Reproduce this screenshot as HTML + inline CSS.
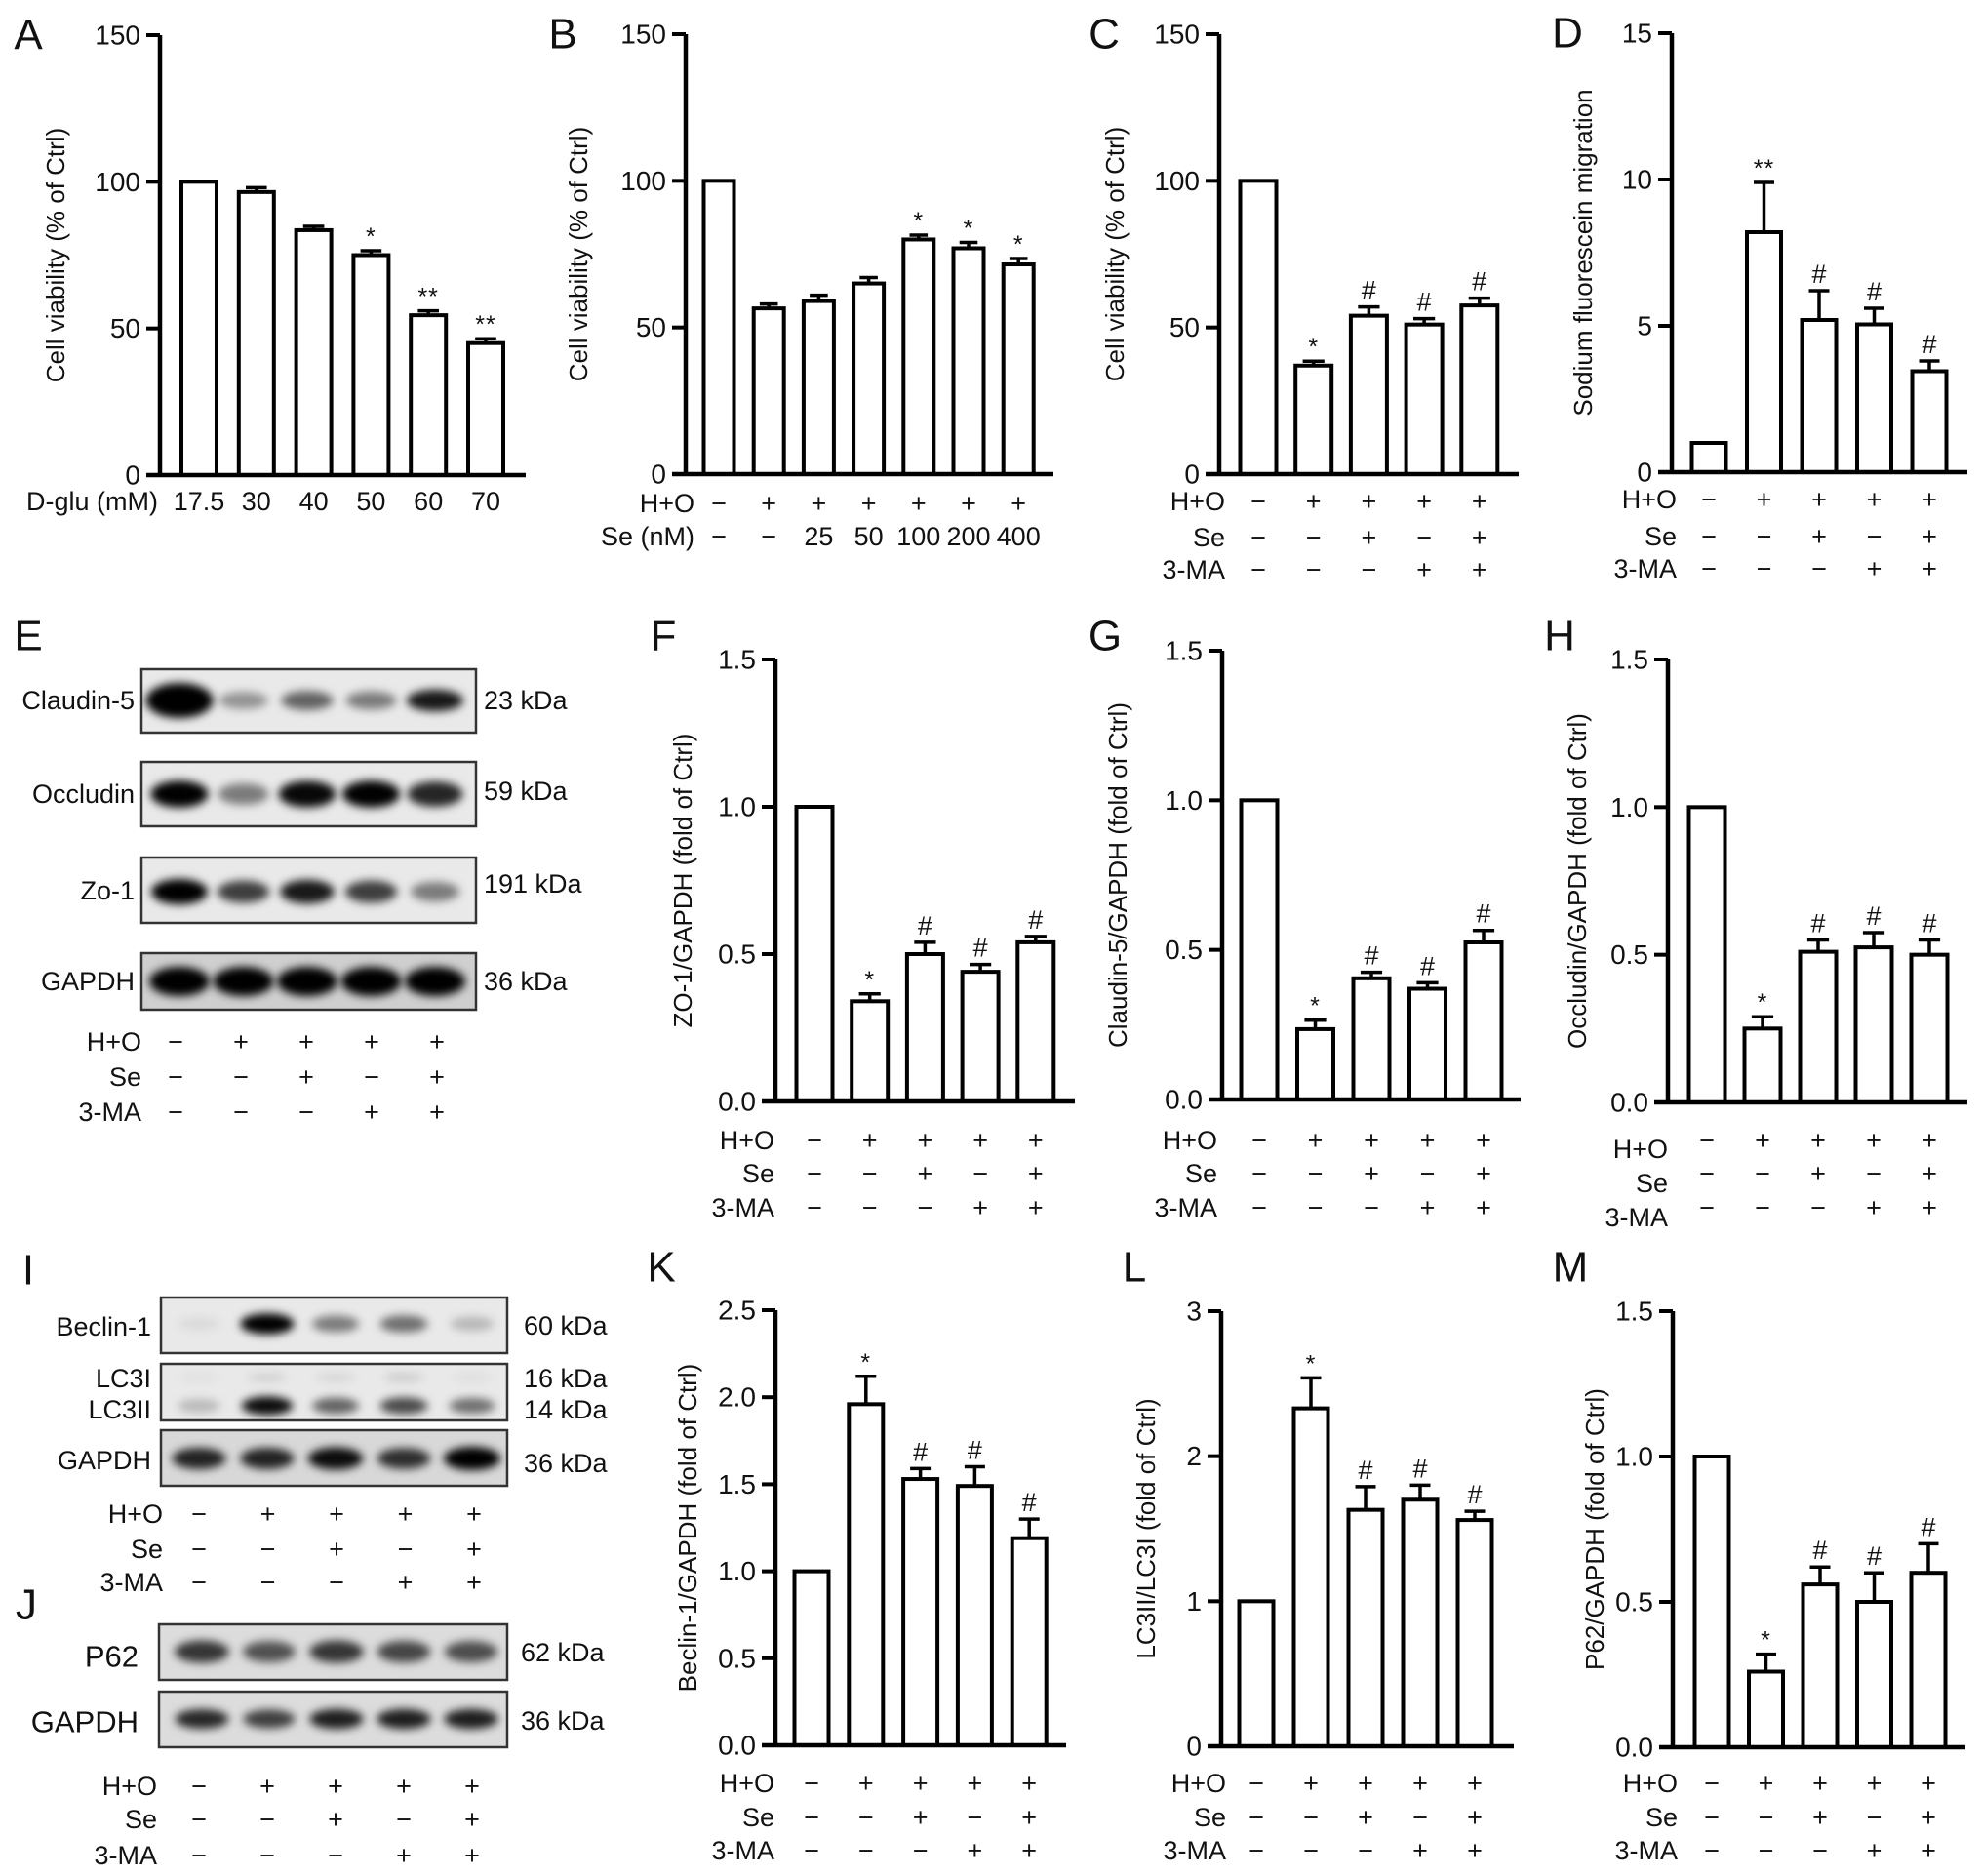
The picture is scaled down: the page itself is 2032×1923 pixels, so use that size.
<!DOCTYPE html>
<html><head><meta charset="utf-8">
<style>
html,body{margin:0;padding:0;background:#fff;}
svg{display:block;font-family:"Liberation Sans",Arial,sans-serif;}
</style></head>
<body>
<svg id="fig" xmlns="http://www.w3.org/2000/svg" width="2032" height="1923" viewBox="0 0 2032 1923">
<defs>
<filter id="blur" x="-50%" y="-100%" width="200%" height="300%"><feGaussianBlur stdDeviation="4.5"/></filter>
</defs>
</svg>
<script>
// ===== data =====
const aCategories = ["17.5","30","40","50","60","70"];
const aValues = [100, 96.5, 83.5, 75, 54.5, 45];
const aErrors = [0, 1.5, 1.3, 1.5, 1.5, 1.5];
const aAnnot = ["", "", "", "*", "**", "**"];

const bHO = ["−","+","+","+","+","+","+"];
const bSe = ["−","−","25","50","100","200","400"];
const bValues = [100, 56.5, 59, 65, 80, 77, 71.5];
const bErrors = [0, 1.5, 2, 2, 1.5, 2, 2];
const bAnnot = ["", "", "", "", "*", "*", "*"];

const groupHO = ["−","+","+","+","+"];
const groupSe = ["−","−","+","−","+"];
const groupMA = ["−","−","−","+","+"];

const cValues = [100, 37, 54, 51, 57.5];
const cErrors = [0, 1.5, 3, 2, 2.5];
const cAnnot = ["", "*", "#", "#", "#"];

const dValues = [1, 8.2, 5.2, 5.05, 3.45];
const dErrors = [0, 1.7, 1.0, 0.55, 0.35];
const dAnnot = ["", "**", "#", "#", "#"];

const fValues = [1, 0.34, 0.50, 0.44, 0.54];
const fErrors = [0, 0.025, 0.04, 0.025, 0.02];
const gValues = [1, 0.235, 0.405, 0.37, 0.525];
const gErrors = [0, 0.03, 0.02, 0.02, 0.04];
const hValues = [1, 0.25, 0.51, 0.525, 0.50];
const hErrors = [0, 0.04, 0.04, 0.05, 0.05];
const fghAnnot = ["", "*", "#", "#", "#"];

const kValues = [1, 1.96, 1.53, 1.49, 1.19];
const kErrors = [0, 0.16, 0.06, 0.11, 0.11];
const lValues = [1, 2.33, 1.63, 1.70, 1.56];
const lErrors = [0, 0.21, 0.16, 0.10, 0.06];
const mValues = [1, 0.26, 0.56, 0.50, 0.60];
const mErrors = [0, 0.06, 0.06, 0.10, 0.10];
const klmAnnot = ["", "*", "#", "#", "#"];

const ticks150 = [0, 50, 100, 150];
const ticks150Labels = ["0","50","100","150"];
const ticks15 = [0, 5, 10, 15];
const ticks15Labels = ["0","5","10","15"];
const ticks1p5 = [0, 0.5, 1.0, 1.5];
const ticks1p5Labels = ["0.0","0.5","1.0","1.5"];
const ticks2p5 = [0, 0.5, 1.0, 1.5, 2.0, 2.5];
const ticks2p5Labels = ["0.0","0.5","1.0","1.5","2.0","2.5"];
const ticks3 = [0, 1, 2, 3];
const ticks3Labels = ["0","1","2","3"];

// blot intensities (0..1) per lane
const claudinBands = [1.0, 0.35, 0.55, 0.45, 0.85];
const occludinBands = [0.95, 0.45, 0.92, 0.95, 0.8];
const zo1Bands = [1.0, 0.7, 0.85, 0.7, 0.45];
const gapdhEBands = [1.0, 1.0, 1.0, 1.0, 1.0];
const beclinBands = [0.06, 0.95, 0.45, 0.5, 0.2];
const lc3iBands = [0.04, 0.1, 0.08, 0.12, 0.05];
const lc3iiBands = [0.2, 0.9, 0.55, 0.65, 0.5];
const gapdhIBands = [0.8, 0.8, 0.9, 0.75, 1.0];
const p62Bands = [0.72, 0.6, 0.72, 0.65, 0.62];
const gapdhJBands = [0.78, 0.68, 0.82, 0.82, 0.82];

// ===== helpers =====
const svg = document.getElementById('fig');
const NS = 'http://www.w3.org/2000/svg';
function mk(tag, attrs, parent) {
  const el = document.createElementNS(NS, tag);
  for (const k in attrs) el.setAttribute(k, attrs[k]);
  (parent || svg).appendChild(el);
  return el;
}
function txt(str, x, y, size, anchor, parent, extra) {
  const t = mk('text', {x: x, y: y, 'font-size': size, 'text-anchor': anchor || 'middle', 'dominant-baseline': 'central', fill: '#111'}, parent);
  if (extra) for (const k in extra) t.setAttribute(k, extra[k]);
  t.textContent = str;
  return t;
}

function barChart(c) {
  const g = mk('g', {});
  
  
  const yScale = v => c.y0 - (v / c.ymax) * (c.y0 - c.ytop);
  const xScale = i => c.x0 + i * c.step;
  const L = txt(c.letter, c.letterX, c.letterY, 44, 'middle', g);
  
  
  const midY = (c.y0 + c.ytop) / 2;
  const yt = txt(c.title, c.titleX, midY, c.titleSize || 26, 'middle', g, {transform: 'rotate(-90 ' + c.titleX + ' ' + midY + ')'});
  
  
  for (let i = 0; i < c.values.length; i++) {
    const cx = xScale(i), v = c.values[i], top = yScale(v);
    const bar = mk('rect', {x: cx - c.bw / 2, y: top, width: c.bw, height: c.y0 - top, fill: '#fff', stroke: '#000', 'stroke-width': 4}, g);
    
    
    const e = c.errors[i];
    let et = top;
    if (e > 0) {
      et = yScale(v + e);
      const eb = mk('path', {d: 'M' + cx + ' ' + top + 'V' + et + 'M' + (cx - c.bw * 0.3) + ' ' + et + 'H' + (cx + c.bw * 0.3), stroke: '#000', 'stroke-width': 3.5, fill: 'none'}, g);
      
      
    }
    const an = c.annot[i];
    if (an) {
      let t;
      if (an[0] === '*') t = txt(an, cx, et - 6, 25, 'middle', g, {'dominant-baseline': 'auto', 'letter-spacing': '1'});
      else t = txt(an, cx, et - 8, 27, 'middle', g, {'dominant-baseline': 'auto'});
      
      
    }
  }
  const ax = mk('path', {d: 'M' + c.axisX + ' ' + (c.ytop) + 'V' + c.y0 + 'M' + (c.axisX - 14) + ' ' + c.y0 + 'H' + c.xEnd, stroke: '#000', 'stroke-width': 4.5, fill: 'none'}, g);
  
  
  for (let j = 0; j < c.ticks.length; j++) {
    const ty = yScale(c.ticks[j]);
    const tk = mk('line', {x1: c.axisX - 14, x2: c.axisX, y1: ty, y2: ty, stroke: '#000', 'stroke-width': 4}, g);
    
    
    const tl = txt(c.tickLabels[j], c.axisX - 20, ty, 28, 'end', g);
    
    
  }
  for (let r = 0; r < c.rows.length; r++) {
    const row = c.rows[r];
    const lab = txt(row.label, c.rowLabelX, row.labelY !== undefined ? row.labelY : row.y, 27, 'end', g);
    
    
    for (let i = 0; i < row.vals.length; i++) {
      const s = txt(row.vals[i], xScale(i), row.y, 27, 'middle', g);
      
      
    }
  }
}

function blot(c) {
  const g = mk('g', {});
  
  
  if (c.letter) {
    const L = txt(c.letter, c.letterX, c.letterY, 44, 'middle', g);
    
    
  }
  const laneX = i => c.lane0 + i * c.laneStep;
  for (const b of c.boxes) {
    const box = mk('rect', {x: c.bx, y: b.y, width: c.bw, height: b.h, fill: b.bg || '#e9e9e9', stroke: '#333', 'stroke-width': 2.5}, g);
    
    
    const clip = mk('clipPath', {id: 'clip-' + b.id}, g);
    mk('rect', {x: c.bx, y: b.y, width: c.bw, height: b.h}, clip);
    const bg = mk('g', {'clip-path': 'url(#clip-' + b.id + ')'}, g);
    for (const band of b.bands) {
      for (let i = 0; i < band.vals.length; i++) {
        const v = band.vals[i];
        const e = mk('ellipse', {cx: laneX(i), cy: band.y, rx: band.rx * (0.75 + 0.25 * v) * (band.big && i === 0 ? 1.15 : 1), ry: band.ry * (0.6 + 0.4 * v) * (band.big && i === 0 ? 1.5 : 1), fill: '#000', 'fill-opacity': Math.min(1, v * 1.05), filter: 'url(#blur)'}, bg);
        
        
      }
    }
    for (const lb of b.labels) {
      const t = txt(lb.text, c.labelX, lb.y, lb.size || 27, 'end', g);
      
      
    }
    for (const kd of b.kda) {
      const t = txt(kd.text, c.kdaX, kd.y, 27, 'start', g);
      
      
    }
  }
  for (const row of c.rows) {
    const lab = txt(row.label, c.rowLabelX, row.y, 27, 'end', g);
    
    
    for (let i = 0; i < row.vals.length; i++) {
      const s = txt(row.vals[i], c.sign0 + i * c.signStep, row.y, 27, 'middle', g);
      
      
    }
  }
}

// ===== panels =====
barChart({name:'panel-a-chart', letter:'A', letterX:29, letterY:36, title:'Cell viability (% of Ctrl)', titleX:57,
  axisX:164, xEnd:539, y0:487, ytop:36, ymax:150, x0:204, step:58.8, bw:36,
  values:aValues, errors:aErrors, annot:aAnnot, ticks:ticks150, tickLabels:ticks150Labels,
  rowLabelX:162, rows:[{label:'D-glu (mM)', y:514, vals:aCategories}]});

barChart({name:'panel-b-chart', letter:'B', letterX:577, letterY:35, title:'Cell viability (% of Ctrl)', titleX:593,
  axisX:703, xEnd:1080, y0:486, ytop:35, ymax:150, x0:737, step:51.2, bw:31,
  values:bValues, errors:bErrors, annot:bAnnot, ticks:ticks150, tickLabels:ticks150Labels,
  rowLabelX:712, rows:[{label:'H+O', y:516, vals:bHO},{label:'Se (nM)', y:550, vals:bSe}]});

barChart({name:'panel-c-chart', letter:'C', letterX:1132, letterY:35, title:'Cell viability (% of Ctrl)', titleX:1143,
  axisX:1250, xEnd:1557, y0:486, ytop:35, ymax:150, x0:1290, step:56.7, bw:37,
  values:cValues, errors:cErrors, annot:cAnnot, ticks:ticks150, tickLabels:ticks150Labels,
  rowLabelX:1256, rows:[{label:'H+O', y:514, vals:groupHO},{label:'Se', y:551, vals:groupSe},{label:'3-MA', y:584, vals:groupMA}]});

barChart({name:'panel-d-chart', letter:'D', letterX:1607, letterY:34, title:'Sodium fluorescein migration', titleX:1623,
  axisX:1714, xEnd:2017, y0:484, ytop:34, ymax:15, x0:1752, step:56.5, bw:35,
  values:dValues, errors:dErrors, annot:dAnnot, ticks:ticks15, tickLabels:ticks15Labels,
  rowLabelX:1719, rows:[{label:'H+O', y:512, vals:groupHO},{label:'Se', y:550, vals:groupSe},{label:'3-MA', y:583, vals:groupMA}]});

barChart({name:'panel-f-chart', letter:'F', letterX:680, letterY:652, title:'ZO-1/GAPDH (fold of Ctrl)', titleX:700,
  axisX:795, xEnd:1102, y0:1129, ytop:676, ymax:1.5, x0:835, step:56.7, bw:37,
  values:fValues, errors:fErrors, annot:fghAnnot, ticks:ticks1p5, tickLabels:ticks1p5Labels,
  rowLabelX:794, rows:[{label:'H+O', y:1169, vals:groupHO},{label:'Se', y:1203, vals:groupSe},{label:'3-MA', y:1238, vals:groupMA}]});

barChart({name:'panel-g-chart', letter:'G', letterX:1133, letterY:652, title:'Claudin-5/GAPDH (fold of Ctrl)', titleX:1146,
  axisX:1253, xEnd:1559, y0:1127, ytop:667, ymax:1.5, x0:1291, step:57.5, bw:37,
  values:gValues, errors:gErrors, annot:fghAnnot, ticks:ticks1p5, tickLabels:ticks1p5Labels,
  rowLabelX:1248, rows:[{label:'H+O', y:1169, vals:groupHO},{label:'Se', y:1203, vals:groupSe},{label:'3-MA', y:1238, vals:groupMA}]});

barChart({name:'panel-h-chart', letter:'H', letterX:1599, letterY:652, title:'Occludin/GAPDH (fold of Ctrl)', titleX:1617,
  axisX:1710, xEnd:2017, y0:1130, ytop:676, ymax:1.5, x0:1750, step:57, bw:37,
  values:hValues, errors:hErrors, annot:fghAnnot, ticks:ticks1p5, tickLabels:ticks1p5Labels,
  rowLabelX:1710, rows:[{label:'H+O', y:1169, labelY:1178, vals:groupHO},{label:'Se', y:1203, labelY:1213, vals:groupSe},{label:'3-MA', y:1238, labelY:1248, vals:groupMA}]});

barChart({name:'panel-k-chart', letter:'K', letterX:678, letterY:1299, title:'Beclin-1/GAPDH (fold of Ctrl)', titleX:705,
  axisX:795, xEnd:1093, y0:1789, ytop:1343, ymax:2.5, x0:832, step:55.8, bw:35,
  values:kValues, errors:kErrors, annot:klmAnnot, ticks:ticks2p5, tickLabels:ticks2p5Labels,
  rowLabelX:794, rows:[{label:'H+O', y:1828, vals:groupHO},{label:'Se', y:1863, vals:groupSe},{label:'3-MA', y:1897, vals:groupMA}]});

barChart({name:'panel-l-chart', letter:'L', letterX:1163, letterY:1299, title:'LC3II/LC3I (fold of Ctrl)', titleX:1175,
  axisX:1252, xEnd:1552, y0:1790, ytop:1344, ymax:3, x0:1288, step:56, bw:35,
  values:lValues, errors:lErrors, annot:klmAnnot, ticks:ticks3, tickLabels:ticks3Labels,
  rowLabelX:1257, rows:[{label:'H+O', y:1828, vals:groupHO},{label:'Se', y:1863, vals:groupSe},{label:'3-MA', y:1897, vals:groupMA}]});

barChart({name:'panel-m-chart', letter:'M', letterX:1610, letterY:1299, title:'P62/GAPDH (fold of Ctrl)', titleX:1635,
  axisX:1715, xEnd:2015, y0:1791, ytop:1344, ymax:1.5, x0:1755, step:55.5, bw:35,
  values:mValues, errors:mErrors, annot:klmAnnot, ticks:ticks1p5, tickLabels:ticks1p5Labels,
  rowLabelX:1720, rows:[{label:'H+O', y:1828, vals:groupHO},{label:'Se', y:1863, vals:groupSe},{label:'3-MA', y:1897, vals:groupMA}]});

// blots
blot({name:'panel-e-blot', letter:'E', letterX:29, letterY:652, bx:145, bw:343, lane0:184, laneStep:65.5,
  labelX:138, kdaX:496, rowLabelX:145, sign0:180, signStep:67,
  boxes:[
    {id:'claudin-5', y:686, h:65, bands:[{y:718, rx:30, ry:12, vals:claudinBands, big:true}], labels:[{text:'Claudin-5', y:718}], kda:[{text:'23 kDa', y:718}]},
    {id:'occludin', y:781, h:66, bands:[{y:814, rx:30, ry:14, vals:occludinBands}], labels:[{text:'Occludin', y:814}], kda:[{text:'59 kDa', y:811}]},
    {id:'zo-1', y:879, h:67, bands:[{y:914, rx:29, ry:13, vals:zo1Bands}], labels:[{text:'Zo-1', y:913}], kda:[{text:'191 kDa', y:906}]},
    {id:'gapdh-e', y:977, h:58, bg:'#cfcfcf', bands:[{y:1006, rx:31, ry:15, vals:gapdhEBands}], labels:[{text:'GAPDH', y:1006}], kda:[{text:'36 kDa', y:1006}]}
  ],
  rows:[{label:'H+O', y:1068, vals:groupHO},{label:'Se', y:1104, vals:groupSe},{label:'3-MA', y:1140, vals:groupMA}]});

blot({name:'panel-i-blot', letter:'I', letterX:29, letterY:1302, bx:165, bw:355, lane0:204, laneStep:70,
  labelX:155, kdaX:537, rowLabelX:167, sign0:204, signStep:70.5,
  boxes:[
    {id:'beclin-1', y:1330, h:57, bands:[{y:1357, rx:28, ry:11, vals:beclinBands}], labels:[{text:'Beclin-1', y:1360}], kda:[{text:'60 kDa', y:1359}]},
    {id:'lc3', y:1398, h:58, bands:[{y:1412, rx:26, ry:7, vals:lc3iBands},{y:1441, rx:27, ry:10, vals:lc3iiBands}], labels:[{text:'LC3I', y:1413},{text:'LC3II', y:1445}], kda:[{text:'16 kDa', y:1413},{text:'14 kDa', y:1445}]},
    {id:'gapdh-i', y:1466, h:57, bg:'#d8d8d8', bands:[{y:1495, rx:29, ry:12, vals:gapdhIBands}], labels:[{text:'GAPDH', y:1497}], kda:[{text:'36 kDa', y:1500}]}
  ],
  rows:[{label:'H+O', y:1552, vals:groupHO},{label:'Se', y:1588, vals:groupSe},{label:'3-MA', y:1622, vals:groupMA}]});

blot({name:'panel-j-blot', letter:'J', letterX:27, letterY:1645, bx:163, bw:357, lane0:207, laneStep:69,
  labelX:142, kdaX:534, rowLabelX:161, sign0:204, signStep:70,
  boxes:[
    {id:'p62', y:1665, h:57, bg:'#dcdcdc', bands:[{y:1693, rx:30, ry:13, vals:p62Bands}], labels:[{text:'P62', y:1698, size:31}], kda:[{text:'62 kDa', y:1694}]},
    {id:'gapdh-j', y:1734, h:57, bg:'#dcdcdc', bands:[{y:1762, rx:29, ry:11, vals:gapdhJBands}], labels:[{text:'GAPDH', y:1765, size:31}], kda:[{text:'36 kDa', y:1764}]}
  ],
  rows:[{label:'H+O', y:1831, vals:groupHO},{label:'Se', y:1865, vals:groupSe},{label:'3-MA', y:1902, vals:groupMA}]});
</script>
</body></html>
